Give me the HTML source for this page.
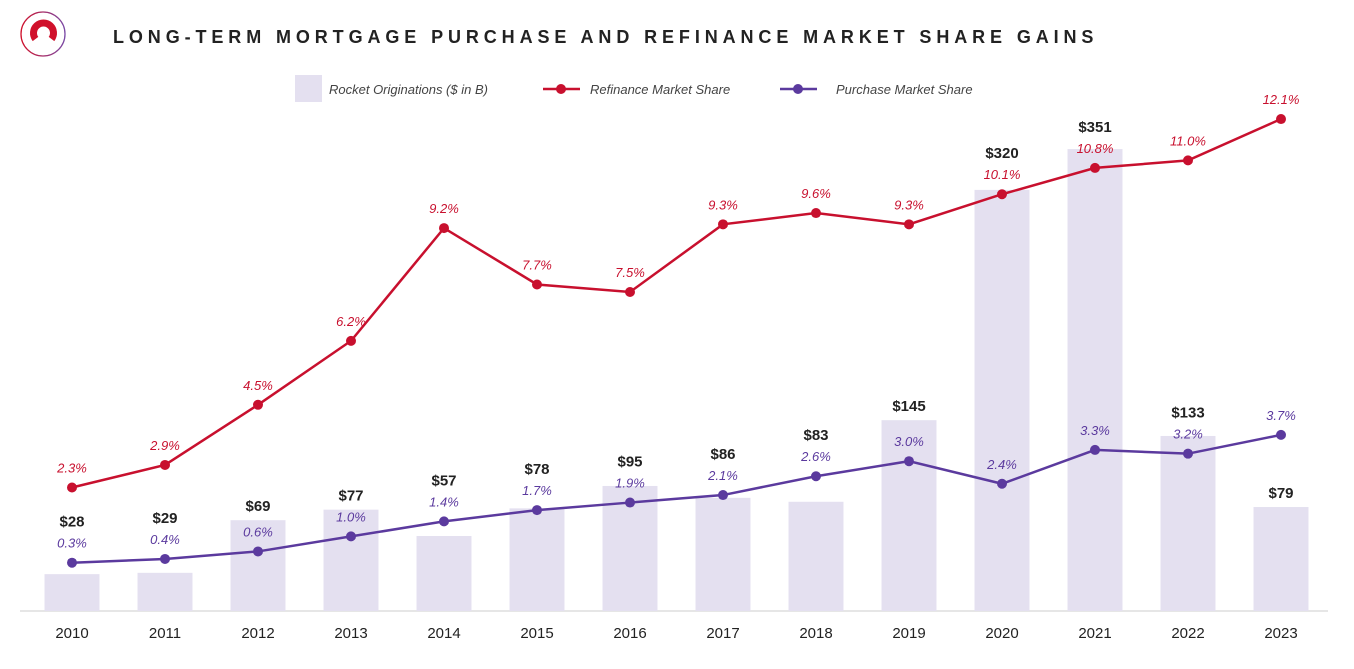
<!DOCTYPE html>
<html><head><meta charset="utf-8">
<style>
body{margin:0;background:#fff;width:1354px;height:664px;overflow:hidden;font-family:"Liberation Sans",sans-serif}
</style></head>
<body>
<svg id="chart" width="1354" height="664" xmlns="http://www.w3.org/2000/svg">
  <defs>
    <linearGradient id="ringGrad" x1="0" y1="0" x2="1" y2="0">
      <stop offset="0" stop-color="#d0112b"/><stop offset="1" stop-color="#7a4aa6"/>
    </linearGradient>
  </defs>
  <g>
    <circle cx="43" cy="34" r="22" fill="none" stroke="url(#ringGrad)" stroke-width="1.3"/>
    <path d="M35.5 39 A10 10 0 1 1 51.5 39" fill="none" stroke="#d0112b" stroke-width="7"/>
  </g>
  <text x="113" y="43" font-size="18" font-weight="bold" letter-spacing="4.9" fill="#222">LONG-TERM MORTGAGE PURCHASE AND REFINANCE MARKET SHARE GAINS</text>
  <g>
    <g>
      <rect x="295" y="75" width="27" height="27" fill="#e4e0f0"/>
      <text x="329" y="94" font-size="13" font-style="italic" fill="#444">Rocket Originations ($ in B)</text>
    </g>
    <g>
      <line x1="543" y1="89" x2="580" y2="89" stroke="#c8102e" stroke-width="2.5"/>
      <circle cx="561" cy="89" r="5" fill="#c8102e"/>
      <text x="590" y="94" font-size="13" font-style="italic" fill="#444">Refinance Market Share</text>
    </g>
    <g>
      <line x1="780" y1="89" x2="817" y2="89" stroke="#5b3a9e" stroke-width="2.5"/>
      <circle cx="798" cy="89" r="5" fill="#5b3a9e"/>
      <text x="836" y="94" font-size="13" font-style="italic" fill="#444">Purchase Market Share</text>
    </g>
  </g>
  <line x1="20" y1="611" x2="1328" y2="611" stroke="#ccc" stroke-width="1"/>
  <g id="plot"></g>
</svg>
<script>
const years = ["2010","2011","2012","2013","2014","2015","2016","2017","2018","2019","2020","2021","2022","2023"];
const originations = [28,29,69,77,57,78,95,86,83,145,320,351,133,79];
const originationLabels = ["$28","$29","$69","$77","$57","$78","$95","$86","$83","$145","$320","$351","$133","$79"];
const refinanceShare = [2.3,2.9,4.5,6.2,9.2,7.7,7.5,9.3,9.6,9.3,10.1,10.8,11.0,12.1];
const purchaseShare = [0.3,0.4,0.6,1.0,1.4,1.7,1.9,2.1,2.6,3.0,2.4,3.3,3.2,3.7];
</script>
<script>
const NS="http://www.w3.org/2000/svg";
const plot=document.getElementById('plot');
const xPos=i=>72+i*93;
const baseY=611;
const barY=v=>baseY-v*1.316;
const pctY=v=>574-v*37.6;
function mk(tag,attrs,parent){const e=document.createElementNS(NS,tag);for(const k in attrs)e.setAttribute(k,attrs[k]);(parent||plot).appendChild(e);return e;}
years.forEach((y,i)=>{
  const top=barY(originations[i]);
  const r=mk('rect',{x:xPos(i)-27.5,y:top,width:55,height:baseY-top,fill:'#e4e0f0'});
  
  
  const t=mk('text',{x:xPos(i),y:baseY+27,'font-size':15,'text-anchor':'middle',fill:'#222'});
  t.textContent=y;
  
  
});
function series(vals,color,name){
  const d=vals.map((v,i)=>(i?'L':'M')+xPos(i)+' '+pctY(v)).join(' ');
  const p=mk('path',{d:d,fill:'none',stroke:color,'stroke-width':2.5});
  
  
  vals.forEach((v,i)=>{
    const c=mk('circle',{cx:xPos(i),cy:pctY(v),r:5,fill:color});
    
    
    const t=mk('text',{x:xPos(i),y:pctY(v)-15,'font-size':13,'font-style':'italic','text-anchor':'middle',fill:color});
    t.textContent=v.toFixed(1)+'%';
    
    
  });
}
series(refinanceShare,'#c8102e','refinance');
series(purchaseShare,'#5b3a9e','purchase');
years.forEach((y,i)=>{
  const top=barY(originations[i]);
  let ly=top-15;
  [refinanceShare[i],purchaseShare[i]].forEach(v=>{const py=pctY(v);if(py>top-30&&py<baseY)ly=Math.min(ly,py-42);});
  const t=mk('text',{x:xPos(i),y:ly+6,'font-size':15,'font-weight':'bold','text-anchor':'middle',fill:'#222'});
  t.textContent=originationLabels[i];
  
  
});
</script>
</body></html>
